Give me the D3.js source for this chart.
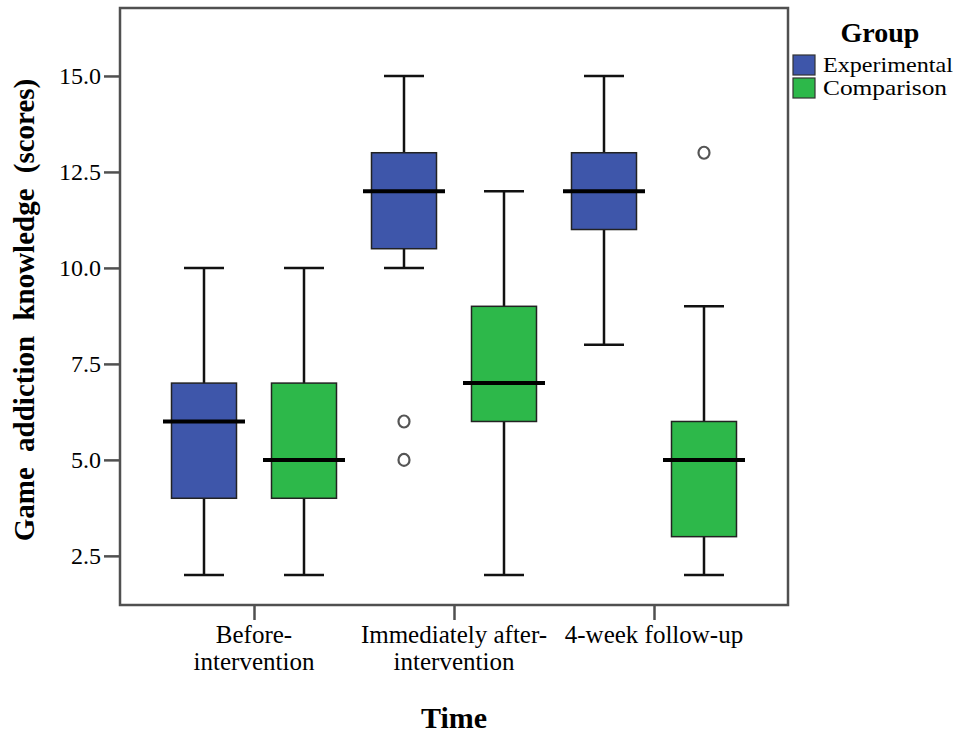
<!DOCTYPE html>
<html>
<head>
<meta charset="utf-8">
<script src="https://cdn.jsdelivr.net/npm/d3@7"></script>
<style>
  body { margin: 0; background: #fff; }
  text { font-family: "Liberation Serif", "Times New Roman", serif; }
</style>
</head>
<body>
<div id="chart"></div>
<script>
// categories and series (min, q1, median, q3, max)
const times = ["Before-intervention", "Immediately after-intervention", "4-week follow-up"];
const timeLabels = [["Before-", "intervention"], ["Immediately after-", "intervention"], ["4-week follow-up"]];
const groups = ["Experimental", "Comparison"];
const experimental = [[2, 4, 6, 7, 10], [10, 10.5, 12, 13, 15], [8, 11, 12, 13, 15]];
const comparison = [[2, 4, 5, 7, 10], [2, 6, 7, 9, 12], [2, 3, 5, 6, 9]];
const expOutliers = [[], [6, 5], []];
const compOutliers = [[], [], [13]];
const yTicks = [2.5, 5.0, 7.5, 10.0, 12.5, 15.0];
const colors = ["#3e56aa", "#2db84a"];

const width = 963, height = 738;
const plotL = 120, plotR = 788, plotT = 8, plotB = 605;

const svg = d3.select("#chart").append("svg")
  .attr("width", width)
  .attr("height", height);

const y = d3.scaleLinear().domain([1.22, 16.77]).range([plotB, plotT]);
const x = d3.scalePoint().domain(times).range([plotL, plotR]).padding(0.67);
const xg = d3.scalePoint().domain(groups).range([-50, 50]);

// frame
svg.append("rect")
  .attr("x", plotL).attr("y", plotT)
  .attr("width", plotR - plotL).attr("height", plotB - plotT)
  .attr("fill", "none").attr("stroke", "#505050").attr("stroke-width", 2.5);

// y axis
const yAxis = svg.append("g")
  .attr("transform", `translate(${plotL},0)`)
  .call(d3.axisLeft(y).tickValues(yTicks).tickFormat(d3.format(".1f")).tickSize(16).tickPadding(3));
yAxis.select(".domain").remove();
yAxis.selectAll(".tick line").attr("stroke", "#505050").attr("stroke-width", 2.5);
yAxis.selectAll(".tick text").attr("font-size", 24).attr("fill", "#000")
  .style("font-family", '"Liberation Serif", "Times New Roman", serif');

// x axis
const xAxis = svg.append("g")
  .attr("transform", `translate(0,${plotB})`)
  .call(d3.axisBottom(x).tickSize(15).tickFormat(""));
xAxis.select(".domain").remove();
xAxis.selectAll(".tick line").attr("stroke", "#505050").attr("stroke-width", 2.5);

svg.append("g").selectAll("text")
  .data(times)
  .join("text")
  .attr("x", d => x(d))
  .attr("y", 643)
  .attr("text-anchor", "middle")
  .attr("font-size", 25)
  .selectAll("tspan")
  .data((d, i) => timeLabels[i])
  .join("tspan")
  .attr("x", function() { return this.parentNode.getAttribute("x"); })
  .attr("dy", (d, i) => i === 0 ? 0 : 27)
  .text(d => d);

// axis titles
svg.append("text")
  .attr("x", 454).attr("y", 728)
  .attr("text-anchor", "middle")
  .attr("font-size", 30).attr("font-weight", "bold")
  .text("Time");

svg.append("text")
  .attr("transform", "translate(34,310) rotate(-90)")
  .attr("text-anchor", "middle")
  .attr("font-size", 29).attr("font-weight", "bold")
  .attr("word-spacing", 8)
  .text("Game addiction knowledge (scores)");

// boxes
const series = [experimental, comparison];
const outliers = [expOutliers, compOutliers];
const boxW = 65, capW = 40, medW = 82;

groups.forEach((g, gi) => {
  const layer = svg.append("g");
  const items = times.map((t, ti) => ({ t, s: series[gi][ti], cx: x(t) + xg(g) }));

  // whiskers
  layer.selectAll(".whisker")
    .data(items).join("line")
    .attr("x1", d => d.cx).attr("x2", d => d.cx)
    .attr("y1", d => y(d.s[0])).attr("y2", d => y(d.s[4]))
    .attr("stroke", "#111").attr("stroke-width", 2.5);

  [0, 4].forEach(k => {
    layer.selectAll(".cap" + k)
      .data(items).join("line")
      .attr("x1", d => d.cx - capW / 2).attr("x2", d => d.cx + capW / 2)
      .attr("y1", d => y(d.s[k])).attr("y2", d => y(d.s[k]))
      .attr("stroke", "#111").attr("stroke-width", 2.5);
  });

  layer.selectAll(".box")
    .data(items).join("rect")
    .attr("x", d => d.cx - boxW / 2)
    .attr("y", d => y(d.s[3]))
    .attr("width", boxW)
    .attr("height", d => y(d.s[1]) - y(d.s[3]))
    .attr("fill", colors[gi])
    .attr("stroke", "#222").attr("stroke-width", 1.5);

  layer.selectAll(".median")
    .data(items).join("line")
    .attr("x1", d => d.cx - medW / 2).attr("x2", d => d.cx + medW / 2)
    .attr("y1", d => y(d.s[2])).attr("y2", d => y(d.s[2]))
    .attr("stroke", "#000").attr("stroke-width", 4);

  const pts = [];
  times.forEach((t, ti) => outliers[gi][ti].forEach(v => pts.push({ cx: x(t) + xg(g), v })));
  layer.selectAll(".outlier")
    .data(pts).join("ellipse")
    .attr("cx", d => d.cx).attr("cy", d => y(d.v))
    .attr("rx", 5.5).attr("ry", 6)
    .attr("fill", "#fff").attr("stroke", "#555").attr("stroke-width", 2.2);
});

// legend
const legend = svg.append("g");
legend.append("text")
  .attr("x", 880).attr("y", 42)
  .attr("text-anchor", "middle")
  .attr("font-size", 28).attr("font-weight", "bold")
  .text("Group");

const li = legend.selectAll(".item")
  .data(groups).join("g")
  .attr("transform", (d, i) => `translate(793,${55 + i * 23})`);
li.append("rect")
  .attr("width", 22).attr("height", 20)
  .attr("fill", (d, i) => colors[i])
  .attr("stroke", "#333").attr("stroke-width", 1.2);
li.append("text")
  .attr("x", 30).attr("y", 17)
  .attr("font-size", 21.5)
  .attr("textLength", (d, i) => i === 0 ? 130 : 124)
  .attr("lengthAdjust", "spacingAndGlyphs")
  .text(d => d);
</script>
</body>
</html>
